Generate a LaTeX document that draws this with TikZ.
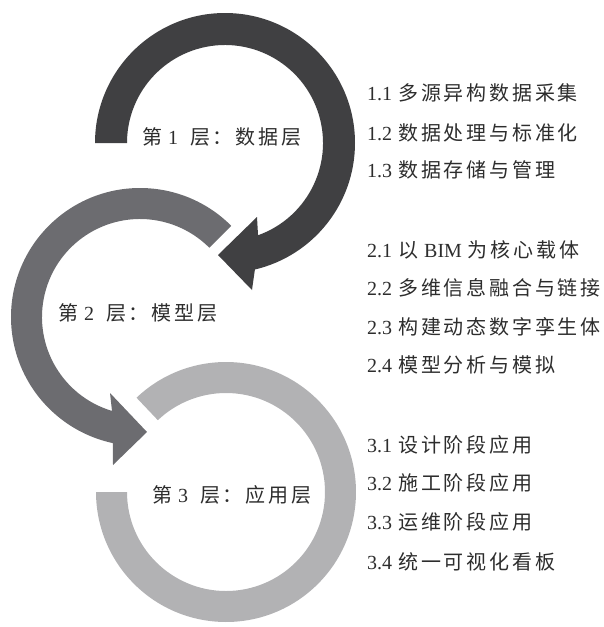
\documentclass[tikz,border=0pt]{standalone}
\usepackage{fontspec}
\setmainfont{Liberation Serif}
\newfontfamily\zhfont[LetterSpace=14]{Noto Sans CJK SC}
\newcommand{\zh}[1]{{\zhfont #1}}
\newcommand{\gap}{\hspace{6pt}}
\usetikzlibrary{calc}
\definecolor{ringA}{RGB}{64,64,66}
\definecolor{ringB}{RGB}{108,108,112}
\definecolor{ringC}{RGB}{178,178,180}
\definecolor{txt}{RGB}{45,45,45}

\begin{document}
\begin{tikzpicture}[x=1pt,y=1pt,
  every node/.style={font=\fontsize{20}{24}\selectfont,text=txt,inner sep=0pt},
  layer/.style={anchor=west},item/.style={anchor=west},
  ringone/.style={fill=ringA},ringtwo/.style={fill=ringB},ringthree/.style={fill=ringC}]
 \useasboundingbox (0,0) rectangle (603,-627);
 \coordinate (c1) at (225,-143);
 \coordinate (c2) at (140,-317);
 \coordinate (c3) at (226,-492);
 % layer 1 ring
 \fill[ringone] ($(c1)+(180:130)$) arc[start angle=180,end angle=-76.7,radius=130pt]
   -- (252,-290) -- (218,-255) -- (257,-217)
   -- ($(c1)+(-70.3:98)$) arc[start angle=-70.3,end angle=180,radius=98pt] -- cycle;
 % layer 2 ring
 \fill[ringtwo] ($(c2)+(45:129)$) arc[start angle=45,end angle=257.9,radius=129pt]
   -- (113,-465) -- (147,-432) -- (110,-393)
   -- ($(c2)+(253.4:98)$) arc[start angle=253.4,end angle=45,radius=98pt] -- cycle;
 % layer 3 ring
 \fill[ringthree] ($(c3)+(133.5:130)$) arc[start angle=133.5,end angle=-180,radius=130pt]
   -- ($(c3)+(-180:99)$) arc[start angle=-180,end angle=133.5,radius=99pt] -- cycle;
 % layer names
 \node[layer] (l1) at (142,-137) {\zh{第}\gap 1\gap\gap\zh{层：数据层}};
 \node[layer] (l2) at (58,-313) {\zh{第}\gap 2\gap\gap\zh{层：模型层}};
 \node[layer] (l3) at (152,-495) {\zh{第}\gap 3\gap\gap\zh{层：应用层}};
 % items
 \node[item] (i11) at (367,-93) {1.1\gap\zh{多源异构数据采集}};
 \node[item] (i12) at (367,-133) {1.2\gap\zh{数据处理与标准化}};
 \node[item] (i13) at (367,-170) {1.3\gap\zh{数据存储与管理}};
 \node[item] (i21) at (367,-250) {2.1\gap\zh{以}\gap BIM\gap\zh{为核心载体}};
 \node[item] (i22) at (367,-288) {2.2\gap\zh{多维信息融合与链接}};
 \node[item] (i23) at (367,-327) {2.3\gap\zh{构建动态数字孪生体}};
 \node[item] (i24) at (367,-365) {2.4\gap\zh{模型分析与模拟}};
 \node[item] (i31) at (367,-445) {3.1\gap\zh{设计阶段应用}};
 \node[item] (i32) at (367,-483) {3.2\gap\zh{施工阶段应用}};
 \node[item] (i33) at (367,-522) {3.3\gap\zh{运维阶段应用}};
 \node[item] (i34) at (367,-562) {3.4\gap\zh{统一可视化看板}};
\end{tikzpicture}
\end{document}
